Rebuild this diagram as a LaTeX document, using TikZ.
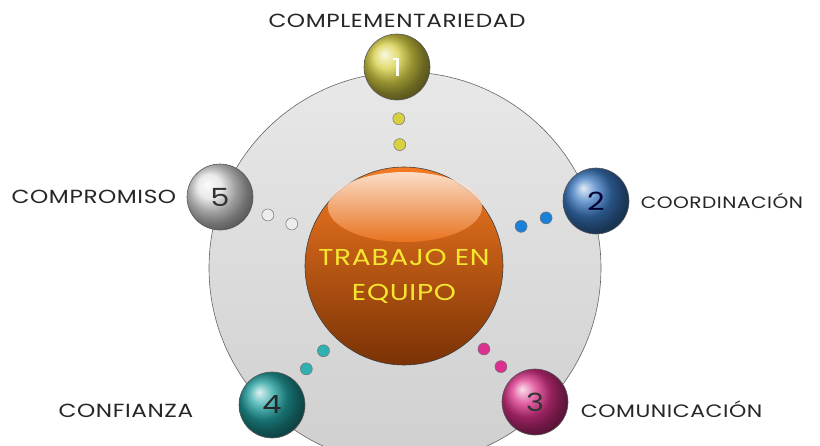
\documentclass[tikz,border=0pt]{standalone}
\usepackage{fontspec}
\setmainfont{Poppins}
\newfontfamily\handfont[FakeStretch=1.22, LetterSpace=3]{Poppins}
\usetikzlibrary{positioning,calc}
\definecolor{ringtop}{HTML}{E8E8E8}
\definecolor{ringbot}{HTML}{CFCFCF}
\definecolor{coretop}{HTML}{F47A22}
\definecolor{coremid}{HTML}{E0600E}
\definecolor{corebot}{HTML}{7A3205}
\definecolor{coretxt}{HTML}{F5E630}
\definecolor{yelball}{HTML}{D8D044}
\definecolor{bluball}{HTML}{3A78C0}
\definecolor{pinball}{HTML}{DA3088}
\definecolor{tealball}{HTML}{22A0A0}
\definecolor{whiball}{HTML}{E2E2E2}
\definecolor{yeldot}{HTML}{D8D040}
\definecolor{bludot}{HTML}{1A80D8}
\definecolor{pindot}{HTML}{DC3090}
\definecolor{tealdot}{HTML}{30B0B0}
\definecolor{whidot}{HTML}{EDEDED}
\tikzset{
  ring/.style     = {circle, minimum size=392pt, inner sep=0pt, draw=black!60,
                     line width=0.6pt, top color=ringtop, bottom color=ringbot},
  core/.style     = {circle, minimum size=198pt, inner sep=0pt, draw=black!75,
                     line width=0.6pt, top color=coretop, middle color=coremid,
                     bottom color=corebot},
  coretext/.style = {align=center, text=coretxt, font=\handfont\fontsize{23}{35}\selectfont},
  ballnode/.style = {circle, minimum size=66pt, inner sep=0pt, draw=black!65,
                     line width=0.6pt, font=\handfont\fontsize{25}{25}\selectfont},
  dot/.style      = {circle, minimum size=12pt, inner sep=0pt, draw=black!55,
                     line width=0.5pt},
  lbl/.style      = {font=\handfont\fontsize{19}{19}\selectfont, text=black!85},
}
\begin{document}
\begin{tikzpicture}[x=1pt,y=-1pt]
  \useasboundingbox (0,0) rectangle (820,445);
  \clip (0,0) rectangle (820,445);
  \fill[white] (0,0) rectangle (820,445);
  % rueda y centro
  \node[ring] (ring) at (405,268) {};
  \node[core] (core) at (404,266) {};
  \shade[top color=white, bottom color=coretop, opacity=0.75] (405,207) ellipse (77 and 35);
  \node[coretext] (coretxt) at (404,276) {TRABAJO EN\\EQUIPO};
  % bolas numeradas
  \node[ballnode, ball color=yelball, text=white]     (b1) at (397,67)  {1};
  \node[ballnode, ball color=bluball, text=blue!20!black] (b2) at (596,201) {2};
  \node[ballnode, ball color=pinball, text=black!80]  (b3) at (535,402) {3};
  \node[ballnode, ball color=tealball, text=black!85] (b4) at (272,405) {4};
  \node[ballnode, ball color=whiball, text=black!80]  (b5) at (220,197) {5};
  % puntos
  \foreach \b/\c in {b1/yeldot, b2/bludot, b3/pindot, b4/tealdot, b5/whidot} {
    \node[dot, fill=\c] at ($(core)!0.61!(\b)$) {};
    \node[dot, fill=\c] at ($(core)!0.74!(\b)$) {};
  }
  % etiquetas
  \node[lbl, above=3pt of b1]  (l1) {COMPLEMENTARIEDAD};
  \node[lbl, right=8pt of b2, font=\handfont\fontsize{16.5}{17}\selectfont] (l2) {COORDINACIÓN};
  \node[lbl, right=9pt of b3, yshift=-7pt, font=\handfont\fontsize{18}{18}\selectfont] (l3) {COMUNICACIÓN};
  \node[lbl, left=42pt of b4, yshift=-6pt]  (l4) {CONFIANZA};
  \node[lbl, left=7pt of b5]   (l5) {COMPROMISO};
\end{tikzpicture}
\end{document}
